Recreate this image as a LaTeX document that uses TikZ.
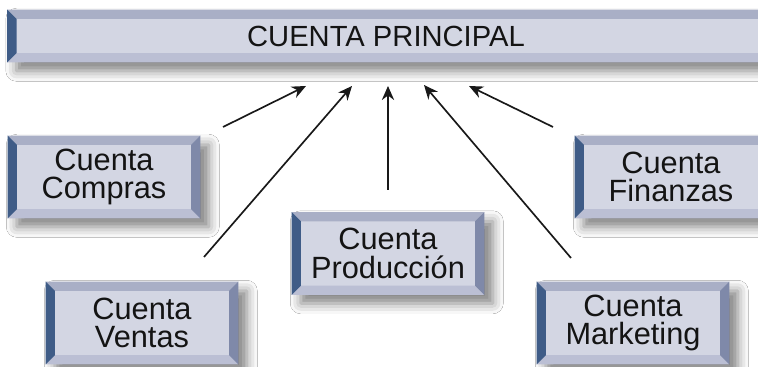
\documentclass[tikz,border=0pt]{standalone}
\usepackage{fontspec}
\setmainfont{Liberation Sans}
\usetikzlibrary{arrows.meta}
\usetikzlibrary{shadows.blur}

\definecolor{cara}{HTML}{D3D6E3}
\definecolor{bordeiz}{HTML}{3F5C87}
\definecolor{bordede}{HTML}{7F89A9}
\definecolor{bordearr}{HTML}{A9AFC6}
\definecolor{bordeab}{HTML}{BBBFD4}

\tikzset{
 cuenta/.style={rectangle, fill=cara, minimum width=3.84cm, minimum height=1.64cm,
   inner sep=0pt, align=center, text=black!92, font=\fontsize{17.5}{16.2}\selectfont,
   blur shadow={shadow xshift=5pt, shadow yshift=-5pt, shadow blur radius=6pt, shadow opacity=50}},
 flecha/.style={-{Stealth[length=8pt,width=7pt]}, line width=0.95pt, black!90}
}

% bisel alrededor de un nodo: #1 nombre, #2 ancho
\newcommand{\bisel}[2]{%
 \fill[bordearr] (#1.north west) -- (#1.north east) -- ([shift={(-#2,-#2)}]#1.north east) -- ([shift={(#2,-#2)}]#1.north west) -- cycle;
 \fill[bordeab] (#1.south west) -- (#1.south east) -- ([shift={(-#2,#2)}]#1.south east) -- ([shift={(#2,#2)}]#1.south west) -- cycle;
 \fill[bordeiz] (#1.north west) -- ([shift={(#2,-#2)}]#1.north west) -- ([shift={(#2,#2)}]#1.south west) -- (#1.south west) -- cycle;
 \fill[bordede] (#1.north east) -- ([shift={(-#2,-#2)}]#1.north east) -- ([shift={(-#2,#2)}]#1.south east) -- (#1.south east) -- cycle;
}

\begin{document}
\begin{tikzpicture}[x=0.02cm, y=-0.02cm]
 \useasboundingbox (0,0) rectangle (758,367);
 \clip (0,0) rectangle (758,367);
 \fill[white] (0,0) rectangle (758,367);

 \node[cuenta, minimum width=15.5cm, minimum height=1.04cm, text height=12pt, font=\fontsize{16.6}{18}\selectfont] (principal) at (395,36) {\hspace*{-0.36cm}CUENTA PRINCIPAL};
 \node[cuenta] (compras) at (104,177) {Cuenta\\Compras};
 \node[cuenta] (ventas) at (142,323) {Cuenta\\Ventas};
 \node[cuenta] (produccion) at (388,253.5) {Cuenta\\Producción};
 \node[cuenta] (marketing) at (633,323) {Cuenta\\Marketing};
 \node[cuenta] (finanzas) at (671,177) {Cuenta\\Finanzas};

 \foreach \n in {principal,compras,ventas,produccion,marketing,finanzas}
  \bisel{\n}{5.3pt};

 % flechas hacia la cuenta principal
 \coordinate (desdecompras) at (223,127);
 \coordinate (desdeventas) at (204,257);
 \coordinate (desdeproduccion) at (388,190);
 \coordinate (desdemarketing) at (571,258);
 \coordinate (desdefinanzas) at (553,127);
 \coordinate (hacia1) at (306,86);
 \coordinate (hacia2) at (352,86);
 \coordinate (hacia3) at (388,86);
 \coordinate (hacia4) at (424,85);
 \coordinate (hacia5) at (469,86);
 \draw[flecha] (desdecompras) -- (hacia1);
 \draw[flecha] (desdeventas) -- (hacia2);
 \draw[flecha] (desdeproduccion) -- (hacia3);
 \draw[flecha] (desdemarketing) -- (hacia4);
 \draw[flecha] (desdefinanzas) -- (hacia5);
\end{tikzpicture}
\end{document}
